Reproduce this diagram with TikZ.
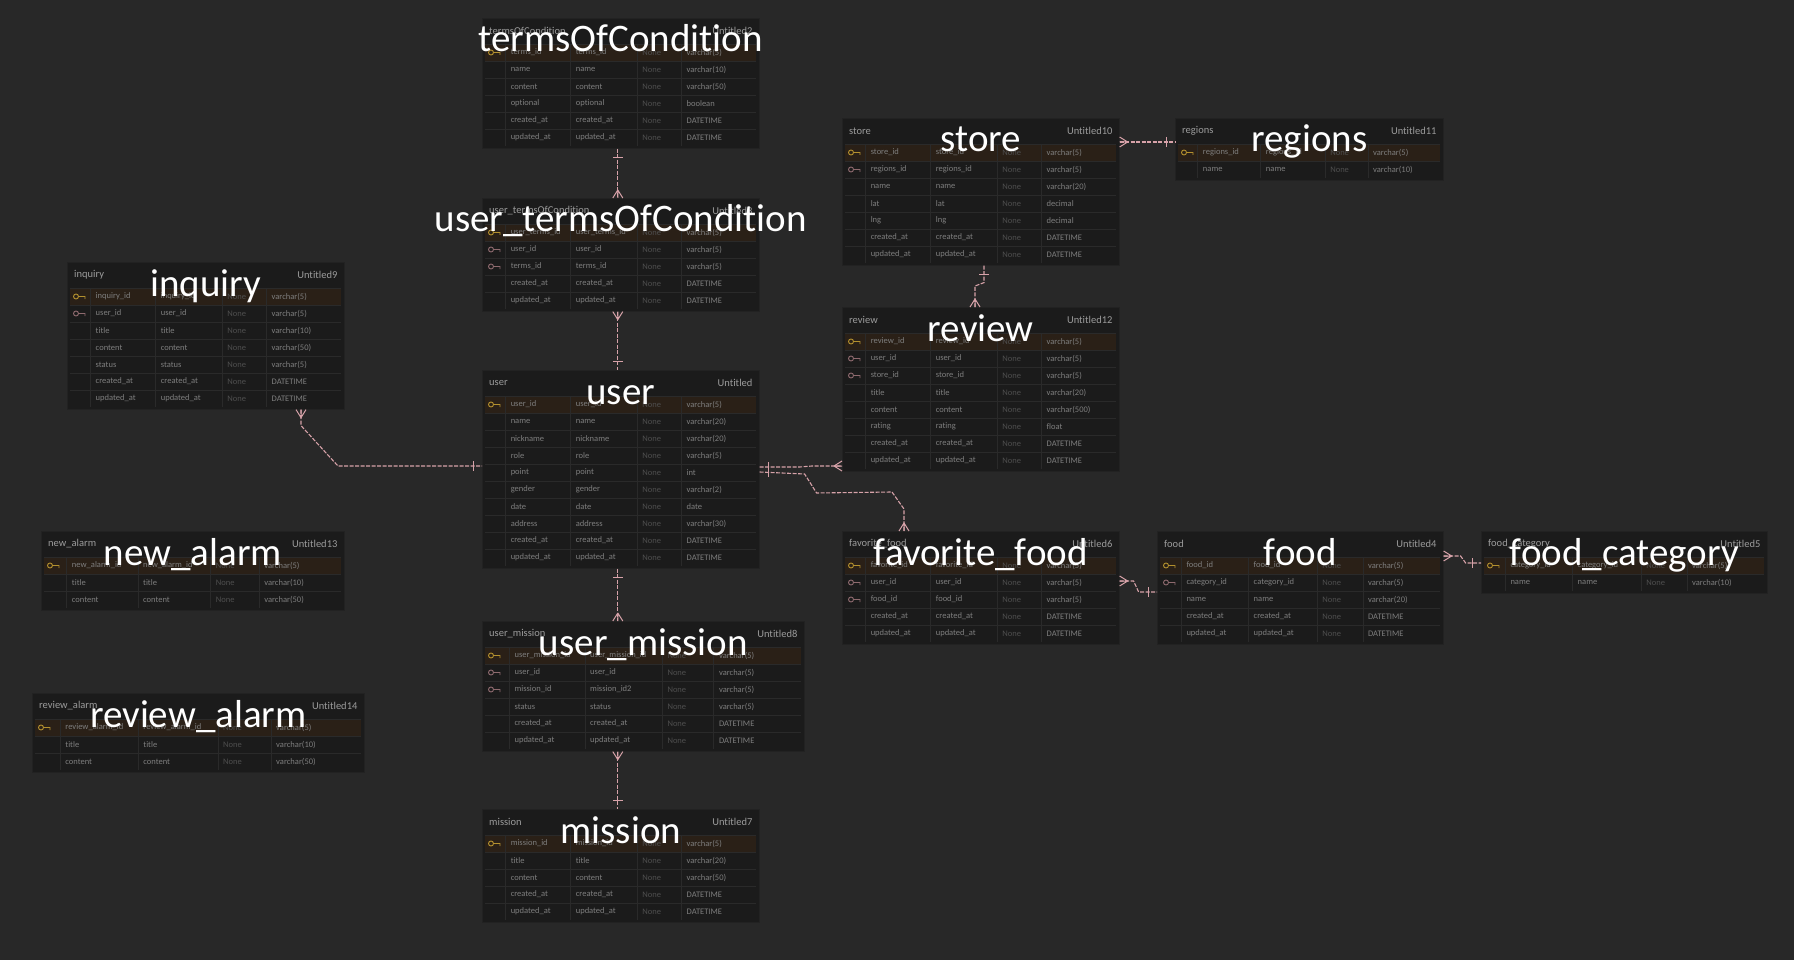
\documentclass[tikz,border=0pt]{standalone}
\usepackage{fontspec}
\setmainfont{Carlito}[Ligatures=NoCommon]
\usetikzlibrary{calc}
\definecolor{bgc}{HTML}{282828}
\definecolor{tblfill}{HTML}{1B1B1B}
\definecolor{tblborder}{HTML}{222222}
\definecolor{sepc}{HTML}{2A2A2A}
\definecolor{pkrow}{HTML}{2A2017}
\definecolor{hdrtext}{HTML}{9C9C9C}
\definecolor{celltext}{HTML}{7E7E7E}
\definecolor{domtext}{HTML}{4E4E4E}
\definecolor{pkc}{HTML}{B3902E}
\definecolor{fkc}{HTML}{8E6A6E}
\definecolor{connc}{HTML}{D7A2A9}
\tikzset{
  tbl/.style={draw=tblborder, fill=tblfill, inner sep=0pt, line width=0.6pt},
  hdr/.style={text=hdrtext, font=\fontsize{10.5}{12}\selectfont, inner sep=0pt},
  cell/.style={text=celltext, font=\fontsize{8.5}{10}\selectfont, inner sep=0pt, anchor=west},
  dom/.style={cell, text=domtext},
  ttl/.style={text=white, font=\fontsize{39}{44}\selectfont, inner sep=0pt, anchor=base},
  conn/.style={draw=connc, line width=1.1pt},
  connd/.style={conn, dash pattern=on 4pt off 1.5pt},
  sep/.style={draw=sepc, line width=0.7pt},
}
\newcommand\erd[9]{%
  \pgfmathsetmacro\erdh{28+#5*17}%
  \node[tbl, minimum width=#4pt, minimum height=\erdh pt, anchor=north west] (#1) at (#2,#3) {};
  \node[hdr, anchor=west] at ($(#1.north west)+(7,13)$) {#6};
  \node[hdr, anchor=east] at ($(#1.north east)+(-7,13)$) {#7};
  \foreach \ic/\ca/\cb/\cc/\cd [count=\i] in {#9} {
    \pgfmathsetmacro\ry{#3+26+(\i-1)*17}
    \ifnum\ic=1 \fill[pkrow] (#2+3,\ry) rectangle (#2+#4-3,\ry+17);\fi
    \draw[sep] (#2+3,\ry) -- (#2+#4-3,\ry);
    \foreach \f in {0.085,0.32,0.56,0.72} \draw[sep] (#2+\f*#4,\ry) -- (#2+\f*#4,\ry+17);
    \ifnum\ic=1 \draw[pkc, line width=0.9pt] (#2+9,\ry+8.5) circle (2.5) (#2+11.5,\ry+8.5) -- (#2+18,\ry+8.5) -- ++(0,2.5);\fi
    \ifnum\ic=2 \draw[fkc, line width=0.9pt] (#2+9,\ry+8.5) circle (2.5) (#2+11.5,\ry+8.5) -- (#2+18,\ry+8.5) -- ++(0,2.5);\fi
    \node[cell] at (#2+0.085*#4+5,\ry+8.5) {\ca};
    \node[cell] at (#2+0.32*#4+5,\ry+8.5) {\cb};
    \node[dom] at (#2+0.56*#4+5,\ry+8.5) {\cc};
    \node[cell] at (#2+0.72*#4+5,\ry+8.5) {\cd};
  }
  \node[ttl] at ($(#1.north)+(0,34)$) {#8};
}
% crow's foot at point #1, direction away from table (#2,#3)
\newcommand\crowm[3]{%
  \draw[conn, line width=1pt] ($(#1)+({8*#2},{8*#3})$) -- ($(#1)+({5*#3},{5*#2})$)
    ($(#1)+({8*#2},{8*#3})$) -- (#1)
    ($(#1)+({8*#2},{8*#3})$) -- ($(#1)-({5*#3},{5*#2})$);}
\newcommand\barm[3]{%
  \draw[conn, line width=1pt] ($(#1)+({9*#2+5*#3},{9*#3+5*#2})$) -- ($(#1)+({9*#2-5*#3},{9*#3-5*#2})$);}
\begin{document}
\begin{tikzpicture}[x=1pt,y=-1pt]
\useasboundingbox (0,0) rectangle (1794,960);
\fill[bgc] (0,0) rectangle (1794,960);

\erd{toc}{482}{18}{277}{6}{termsOfCondition}{Untitled2}{termsOfCondition}{%
1/terms\_id/terms\_id/None/varchar(5),
0/name/name/None/varchar(10),
0/content/content/None/varchar(50),
0/optional/optional/None/boolean,
0/created\_at/created\_at/None/DATETIME,
0/updated\_at/updated\_at/None/DATETIME}

\erd{utoc}{482}{198}{277}{5}{user\_termsOfCondition}{Untitled3}{user\_termsOfCondition}{%
1/user\_terms\_id/user\_terms\_id/None/varchar(5),
2/user\_id/user\_id/None/varchar(5),
2/terms\_id/terms\_id/None/varchar(5),
0/created\_at/created\_at/None/DATETIME,
0/updated\_at/updated\_at/None/DATETIME}

\erd{inq}{67}{262}{277}{7}{inquiry}{Untitled9}{inquiry}{%
1/inquiry\_id/inquiry\_id/None/varchar(5),
2/user\_id/user\_id/None/varchar(5),
0/title/title/None/varchar(10),
0/content/content/None/varchar(50),
0/status/status/None/varchar(5),
0/created\_at/created\_at/None/DATETIME,
0/updated\_at/updated\_at/None/DATETIME}

\erd{user}{482}{370}{277}{10}{user}{Untitled}{user}{%
1/user\_id/user\_id/None/varchar(5),
0/name/name/None/varchar(20),
0/nickname/nickname/None/varchar(20),
0/role/role/None/varchar(5),
0/point/point/None/int,
0/gender/gender/None/varchar(2),
0/date/date/None/date,
0/address/address/None/varchar(30),
0/created\_at/created\_at/None/DATETIME,
0/updated\_at/updated\_at/None/DATETIME}

\erd{store}{842}{118}{277}{7}{store}{Untitled10}{store}{%
1/store\_id/store\_id/None/varchar(5),
2/regions\_id/regions\_id/None/varchar(5),
0/name/name/None/varchar(20),
0/lat/lat/None/decimal,
0/lng/lng/None/decimal,
0/created\_at/created\_at/None/DATETIME,
0/updated\_at/updated\_at/None/DATETIME}

\erd{reg}{1175}{118}{268}{2}{regions}{Untitled11}{regions}{%
1/regions\_id/regions\_id/None/varchar(5),
0/name/name/None/varchar(10)}

\erd{rev}{842}{307}{277}{8}{review}{Untitled12}{review}{%
1/review\_id/review\_id/None/varchar(5),
2/user\_id/user\_id/None/varchar(5),
2/store\_id/store\_id/None/varchar(5),
0/title/title/None/varchar(20),
0/content/content/None/varchar(500),
0/rating/rating/None/float,
0/created\_at/created\_at/None/DATETIME,
0/updated\_at/updated\_at/None/DATETIME}

\erd{fav}{842}{531}{277}{5}{favorite\_food}{Untitled6}{favorite\_food}{%
1/favorite\_id/favorite\_id/None/varchar(5),
2/user\_id/user\_id/None/varchar(5),
2/food\_id/food\_id/None/varchar(5),
0/created\_at/created\_at/None/DATETIME,
0/updated\_at/updated\_at/None/DATETIME}

\erd{food}{1157}{531}{286}{5}{food}{Untitled4}{food}{%
1/food\_id/food\_id/None/varchar(5),
2/category\_id/category\_id/None/varchar(5),
0/name/name/None/varchar(20),
0/created\_at/created\_at/None/DATETIME,
0/updated\_at/updated\_at/None/DATETIME}

\erd{fcat}{1481}{531}{286}{2}{food\_category}{Untitled5}{food\_category}{%
1/category\_id/category\_id/None/varchar(5),
0/name/name/None/varchar(10)}

\erd{nal}{41}{531}{303}{3}{new\_alarm}{Untitled13}{new\_alarm}{%
1/new\_alarm\_id/new\_alarm\_id/None/varchar(5),
0/title/title/None/varchar(10),
0/content/content/None/varchar(50)}

\erd{ral}{32}{693}{332}{3}{review\_alarm}{Untitled14}{review\_alarm}{%
1/review\_alarm\_id/review\_alarm\_id/None/varchar(5),
0/title/title/None/varchar(10),
0/content/content/None/varchar(50)}

\erd{umis}{482}{621}{322}{6}{user\_mission}{Untitled8}{user\_mission}{%
1/user\_mission\_id/user\_mission\_id/None/varchar(5),
2/user\_id/user\_id/None/varchar(5),
2/mission\_id/mission\_id2/None/varchar(5),
0/status/status/None/varchar(5),
0/created\_at/created\_at/None/DATETIME,
0/updated\_at/updated\_at/None/DATETIME}

\erd{mis}{482}{809}{277}{5}{mission}{Untitled7}{mission}{%
1/mission\_id/mission\_id/None/varchar(5),
0/title/title/None/varchar(20),
0/content/content/None/varchar(50),
0/created\_at/created\_at/None/DATETIME,
0/updated\_at/updated\_at/None/DATETIME}

% connectors
\coordinate (a1) at ($(toc.south)+(-3,0)$);
\coordinate (a2) at (a1 |- utoc.north);
\draw[connd] (a1) -- (a2);
\barm{a1}{0}{1}\crowm{a2}{0}{-1}

\coordinate (b1) at ($(utoc.south)+(-3,0)$);
\coordinate (b2) at (b1 |- user.north);
\draw[connd] (b1) -- (b2);
\crowm{b1}{0}{1}\barm{b2}{0}{-1}

\coordinate (c1) at ($(user.south)+(-3,0)$);
\coordinate (c2) at (c1 |- umis.north);
\draw[connd] (c1) -- (c2);
\barm{c1}{0}{1}\crowm{c2}{0}{-1}

\coordinate (d1) at (c1 |- umis.south);
\coordinate (d2) at (c1 |- mis.north);
\draw[connd] (d1) -- (d2);
\crowm{d1}{0}{1}\barm{d2}{0}{-1}

\coordinate (e1) at ($(inq.south west)+(234,0)$);
\coordinate (e4) at ($(user.north west)+(0,96)$);
\draw[connd] (e1) -- ++(0,16) -- ($(e4)+(-144,0)$) -- (e4);
\crowm{e1}{0}{1}\barm{e4}{-1}{0}

\coordinate (f1) at ($(user.north east)+(0,97)$);
\coordinate (f2) at ($(rev.north west)+(0,159)$);
\draw[connd] (f1) -- ++(40,0) -- ($(f2)+(-30,0)$) -- (f2);
\barm{f1}{1}{0}\crowm{f2}{-1}{0}

\coordinate (g1) at ($(user.north east)+(0,102)$);
\coordinate (g2) at ($(fav.north west)+(62,0)$);
\draw[connd] (g1) -- ++(45,2) -- ++(12,19) -- ($(g2)+(-12,-39)$) -- ($(g2)+(0,-22)$) -- (g2);
\barm{g1}{1}{0}\crowm{g2}{0}{-1}

\coordinate (h1) at ($(store.south west)+(142,0)$);
\coordinate (h2) at ($(rev.north west)+(133,0)$);
\draw[connd] (h1) -- ++(0,17) -- ($(h2)+(0,-21)$) -- (h2);
\barm{h1}{0}{1}\crowm{h2}{0}{-1}

\coordinate (i1) at ($(store.north east)+(0,24)$);
\coordinate (i2) at (i1 -| reg.west);
\draw[connd] (i1) -- (i2);
\crowm{i1}{1}{0}\barm{i2}{-1}{0}

\coordinate (j1) at ($(fav.north east)+(0,50)$);
\coordinate (j2) at ($(food.north west)+(0,61)$);
\draw[connd] (j1) -- ++(14,0) -- ++(5,11) -- (j2);
\crowm{j1}{1}{0}\barm{j2}{-1}{0}

\coordinate (k1) at ($(food.north east)+(0,25)$);
\coordinate (k2) at ($(fcat.north west)+(0,32)$);
\draw[connd] (k1) -- ++(17,0) -- ++(5,7) -- (k2);
\crowm{k1}{1}{0}\barm{k2}{-1}{0}
\end{tikzpicture}
\end{document}
